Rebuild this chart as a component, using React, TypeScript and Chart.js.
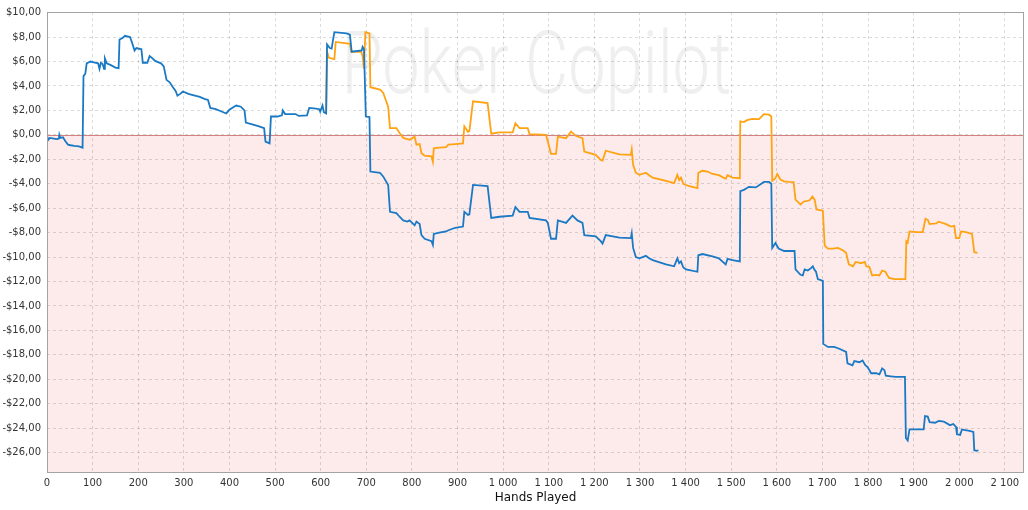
import React, { useEffect, useRef } from 'react';
import { Chart, registerables } from 'chart.js';

Chart.register(...registerables);

// ---- data (hands played, cumulative winnings $) ----
const blueHands = [
  0, 3, 6, 15, 22, 26, 27, 29, 35, 40, 46, 52, 60, 70, 78, 80, 84, 87, 95, 105,
  112, 115, 118, 122, 125, 127, 131, 140, 150, 157, 159, 165, 171, 182, 186, 192, 196, 207, 210, 220,
  225, 230, 237, 250, 256, 262, 269, 276, 282, 286, 292, 298, 310, 320, 335, 345, 353, 358, 370, 380,
  393, 400, 410, 415, 425, 433, 436, 450, 465, 476, 479, 488, 491, 505, 515, 517, 522, 545, 552, 570,
  575, 590, 597, 599, 604, 607, 612, 614, 620, 624, 630, 657, 664, 668, 690, 692, 695, 699, 707, 709,
  730, 737, 748, 752, 766, 773, 781, 790, 795, 806, 810, 817, 821, 828, 843, 846, 848, 860, 875, 880,
  895, 912, 915, 923, 926, 934, 966, 974, 992, 1021, 1027, 1036, 1054, 1058, 1094, 1098, 1105, 1116, 1120, 1138,
  1152, 1163, 1174, 1178, 1203, 1214, 1218, 1225, 1255, 1280, 1282, 1285, 1291, 1299, 1313, 1320, 1328, 1357, 1375, 1382,
  1386, 1390, 1395, 1401, 1426, 1428, 1437, 1459, 1473, 1488, 1492, 1503, 1519, 1520, 1528, 1539, 1554, 1572, 1583, 1588,
  1590, 1597, 1604, 1616, 1634, 1639, 1641, 1652, 1657, 1661, 1668, 1675, 1679, 1682, 1686, 1690, 1701, 1702, 1712, 1726,
  1737, 1752, 1755, 1766, 1770, 1781, 1788, 1794, 1799, 1807, 1818, 1825, 1831, 1836, 1839, 1850, 1861, 1881, 1883, 1887,
  1891, 1905, 1922, 1925, 1931, 1935, 1947, 1955, 1966, 1973, 1980, 1987, 1993, 1995, 2002, 2006, 2013, 2020, 2031, 2033,
  2038, 2042,
];
const blueValues = [
  -0.1, -0.4, -0.25, -0.3, -0.35, -0.3, 0.0, -0.25, -0.2, -0.5, -0.8, -0.85, -0.9, -0.95, -1.05, 4.8, 5.0, 5.85, 6.0, 5.9,
  5.85, 5.4, 5.9, 5.8, 5.4, 6.25, 5.85, 5.7, 5.5, 5.45, 7.8, 7.9, 8.1, 8.0, 7.6, 6.9, 7.1, 7.0, 5.9, 5.9,
  6.45, 6.3, 6.05, 5.85, 5.6, 4.5, 4.3, 3.9, 3.6, 3.2, 3.35, 3.55, 3.35, 3.25, 3.1, 2.95, 2.85, 2.2, 2.1, 1.95,
  1.75, 2.05, 2.3, 2.4, 2.3, 2.0, 1.0, 0.85, 0.7, 0.55, -0.55, -0.7, 1.5, 1.5, 1.6, 2.0, 1.7, 1.7, 1.55, 1.6,
  2.2, 2.15, 2.1, 1.9, 2.4, 1.85, 1.75, 7.4, 7.1, 7.05, 8.4, 8.3, 8.2, 6.8, 6.9, 7.2, 7.0, 1.5, 1.45, -3.0,
  -3.1, -3.4, -4.1, -6.3, -6.4, -6.7, -7.0, -7.1, -7.0, -7.4, -7.1, -7.3, -8.2, -8.5, -8.7, -9.0, -8.1, -8.0, -7.9, -7.8,
  -7.6, -7.5, -6.3, -6.55, -6.5, -4.1, -4.2, -6.8, -6.7, -6.6, -5.9, -6.3, -6.3, -6.8, -7.0, -7.2, -8.5, -8.5, -7.0, -7.2,
  -6.6, -7.0, -7.2, -8.2, -8.3, -8.7, -8.9, -8.2, -8.4, -8.45, -8.05, -9.25, -10.0, -10.1, -9.9, -10.1, -10.25, -10.6, -10.75, -10.1,
  -10.5, -10.35, -10.85, -11.0, -11.2, -9.85, -9.75, -9.95, -10.1, -10.6, -10.15, -10.25, -10.35, -4.6, -4.5, -4.25, -4.3, -3.85, -3.85, -4.0,
  -9.25, -8.85, -9.3, -9.5, -9.5, -9.5, -11.0, -11.45, -11.5, -11.0, -11.1, -10.9, -10.75, -11.0, -11.2, -11.8, -11.95, -17.1, -17.35, -17.35,
  -17.5, -17.75, -18.7, -18.85, -18.5, -18.6, -18.45, -18.85, -19.0, -19.5, -19.5, -19.6, -19.1, -19.25, -19.7, -19.75, -19.8, -19.8, -24.8, -25.0,
  -24.1, -24.1, -24.1, -23.0, -23.05, -23.5, -23.55, -23.4, -23.45, -23.6, -23.75, -23.65, -23.9, -24.5, -24.55, -24.1, -24.15, -24.2, -24.3, -25.8,
  -25.85, -25.8,
];

const orangeHands = [
  612, 614, 618, 630, 633, 664, 667, 689, 692, 695, 698, 707, 709, 730, 737, 748, 752, 766, 773, 781,
  795, 806, 810, 817, 821, 828, 843, 846, 848, 860, 875, 880, 895, 912, 915, 923, 926, 934, 966, 974,
  992, 1021, 1027, 1036, 1054, 1058, 1094, 1098, 1105, 1116, 1120, 1138, 1149, 1160, 1174, 1178, 1203, 1214, 1218, 1225,
  1255, 1280, 1282, 1285, 1291, 1299, 1313, 1320, 1328, 1357, 1375, 1382, 1386, 1390, 1395, 1401, 1408, 1426, 1428, 1437,
  1448, 1459, 1473, 1488, 1492, 1503, 1519, 1520, 1528, 1535, 1546, 1561, 1572, 1583, 1588, 1590, 1597, 1601, 1608, 1616,
  1626, 1637, 1641, 1652, 1659, 1667, 1672, 1678, 1683, 1687, 1701, 1705, 1712, 1723, 1734, 1745, 1752, 1758, 1767, 1773,
  1785, 1793, 1796, 1803, 1809, 1818, 1825, 1831, 1838, 1846, 1858, 1882, 1884, 1887, 1891, 1905, 1920, 1926, 1931, 1935,
  1949, 1955, 1971, 1982, 1989, 1993, 2000, 2004, 2015, 2028, 2033, 2040,
];
const orangeValues = [
  1.75, 6.8, 6.3, 6.2, 7.6, 7.45, 6.8, 6.8, 6.4, 5.4, 8.4, 8.3, 3.9, 3.7, 3.45, 2.3, 0.55, 0.55, 0.15, -0.25,
  -0.4, -0.15, -0.8, -0.75, -1.5, -1.7, -1.75, -2.2, -1.1, -1.05, -1.0, -0.8, -0.75, -0.7, 0.7, 0.25, 0.3, 2.75, 2.6, 0.1,
  0.2, 0.2, 0.95, 0.55, 0.55, 0.05, 0.0, -0.55, -1.55, -1.55, -0.15, -0.27, 0.27, -0.1, -0.27, -1.37, -1.64, -2.05, -2.1, -1.3,
  -1.6, -1.63, -1.2, -2.45, -3.1, -3.27, -3.1, -3.3, -3.5, -3.76, -3.95, -3.27, -3.7, -3.5, -4.0, -4.1, -4.2, -4.36, -3.1, -2.94,
  -3.0, -3.2, -3.3, -3.6, -3.3, -3.5, -3.55, 1.1, 1.05, 1.2, 1.3, 1.28, 1.7, 1.65, 1.5, -3.76, -3.55, -3.2, -3.65, -3.8,
  -3.85, -3.87, -5.3, -5.7, -5.45, -5.4, -5.35, -5.04, -5.3, -6.1, -6.2, -9.05, -9.3, -9.3, -9.25, -9.45, -9.65, -10.6, -10.75, -10.4,
  -10.5, -10.4, -10.75, -10.8, -11.5, -11.45, -11.5, -11.1, -11.2, -11.7, -11.8, -11.8, -8.7, -8.8, -7.9, -7.95, -7.95, -6.86, -6.95, -7.3,
  -7.25, -7.1, -7.3, -7.5, -7.45, -8.45, -8.45, -7.9, -7.95, -8.1, -9.6, -9.65,
];

const xAxisMin = 0;
const xAxisMax = 2142;
const xTickStep = 100;
const yAxisMin = -27.58;
const yAxisMax = 10.05;
const yTickStep = 2;
const xAxisTitle = 'Hands Played';
const watermarkText = 'Poker Copilot';

const BLUE = '#1a79c4';
const ORANGE = '#ffa313';
const FONT = '"DejaVu Sans", Verdana, sans-serif';

function formatMoney(v: number): string {
  const s = Math.abs(v).toFixed(2).replace('.', ',');
  return (v < 0 ? '-' : '') + '$' + s;
}

function formatHands(v: number): string {
  if (v >= 1000) {
    return Math.floor(v / 1000) + ' ' + String(Math.round(v % 1000)).padStart(3, '0');
  }
  return String(v);
}

function toPoints(xs: number[], ys: number[]) {
  return xs.map((x, i) => ({ x, y: ys[i] }));
}

const backgroundPlugin = {
  id: 'pcBackground',
  beforeDraw(chart: any) {
    const { ctx, chartArea: a, scales } = chart;
    const y0 = scales.y.getPixelForValue(0);
    ctx.save();
    ctx.fillStyle = '#ffffff';
    ctx.fillRect(a.left, a.top, a.right - a.left, a.bottom - a.top);
    ctx.fillStyle = '#fdebeb';
    ctx.fillRect(a.left, y0, a.right - a.left, a.bottom - y0);
    // watermark
    ctx.font = '300 88px Roboto, "DejaVu Sans", sans-serif';
    ctx.fillStyle = '#efefef';
    ctx.textBaseline = 'alphabetic';
    ctx.textAlign = 'left';
    const targetW = 390;
    const w = ctx.measureText(watermarkText).width;
    const cx = (a.left + a.right) / 2 + 1;
    ctx.translate(cx - targetW / 2, a.top + 80.5);
    ctx.scale(targetW / w, 1);
    ctx.fillText(watermarkText, 0, 0);
    ctx.restore();
  },
  beforeDatasetsDraw(chart: any) {
    const { ctx, chartArea: a, scales } = chart;
    const y0 = Math.round(scales.y.getPixelForValue(0)) + 0.5;
    ctx.save();
    ctx.strokeStyle = '#d48080';
    ctx.lineWidth = 1;
    ctx.beginPath();
    ctx.moveTo(a.left, y0);
    ctx.lineTo(a.right, y0);
    ctx.stroke();
    ctx.restore();
  },
  afterDraw(chart: any) {
    const { ctx, chartArea: a } = chart;
    ctx.save();
    ctx.strokeStyle = '#a3a3a3';
    ctx.lineWidth = 1;
    ctx.strokeRect(a.left + 0.5, a.top + 0.5, a.right - a.left - 1, a.bottom - a.top);
    ctx.restore();
  },
};

export default function App() {
  const canvasRef = useRef<HTMLCanvasElement | null>(null);

  useEffect(() => {
    const canvas = canvasRef.current;
    if (!canvas) return;
    const chart = new Chart(canvas, {
      type: 'line',
      data: {
        datasets: [
          {
            label: 'Winnings',
            data: toPoints(blueHands, blueValues),
            borderColor: BLUE,
            borderWidth: 1.8,
            pointRadius: 0,
            tension: 0,
            fill: false,
          },
          {
            label: 'All-in EV',
            data: toPoints(orangeHands, orangeValues),
            borderColor: ORANGE,
            borderWidth: 1.8,
            pointRadius: 0,
            tension: 0,
            fill: false,
          },
        ],
      },
      options: {
        animation: false,
        responsive: false,
        maintainAspectRatio: false,
        events: [],
        layout: { padding: { top: 9.5, right: 4, left: 0, bottom: 0 } },
        plugins: {
          legend: { display: false },
          tooltip: { enabled: false },
          title: { display: false },
        },
        scales: {
          x: {
            type: 'linear',
            min: xAxisMin,
            max: xAxisMax,
            afterFit: (s: any) => {
              s.height = 38;
            },
            border: { display: false, dash: [3, 3] },
            grid: {
              color: 'rgba(0,0,0,0.14)',
              lineWidth: 1,
              drawTicks: false,
            },
            ticks: {
              stepSize: xTickStep,
              includeBounds: false,
              autoSkip: false,
              maxRotation: 0,
              padding: 5,
              color: '#333333',
              font: { family: FONT, size: 10 },
              callback: (v: any) => formatHands(Number(v)),
            },
            title: {
              display: true,
              text: xAxisTitle,
              color: '#111111',
              font: { family: FONT, size: 12 },
              padding: { top: 0, bottom: 5 },
            },
          },
          y: {
            type: 'linear',
            min: yAxisMin,
            max: yAxisMax,
            afterFit: (s: any) => {
              s.width = 47;
            },
            border: { display: false, dash: [3, 3] },
            grid: {
              color: 'rgba(0,0,0,0.14)',
              lineWidth: 1,
              drawTicks: false,
            },
            ticks: {
              stepSize: yTickStep,
              includeBounds: false,
              padding: 6,
              color: '#333333',
              font: { family: FONT, size: 10 },
              callback: (v: any) => formatMoney(Number(v)),
            },
          },
        },
      },
      plugins: [backgroundPlugin],
    });
    return () => chart.destroy();
  }, []);

  return (
    <div style={{ position: 'absolute', left: 0, top: 0, width: 1028, height: 510, background: '#ffffff' }}>
      <canvas ref={canvasRef} width={1028} height={510} style={{ display: 'block', width: 1028, height: 510 }} />
    </div>
  );
}
